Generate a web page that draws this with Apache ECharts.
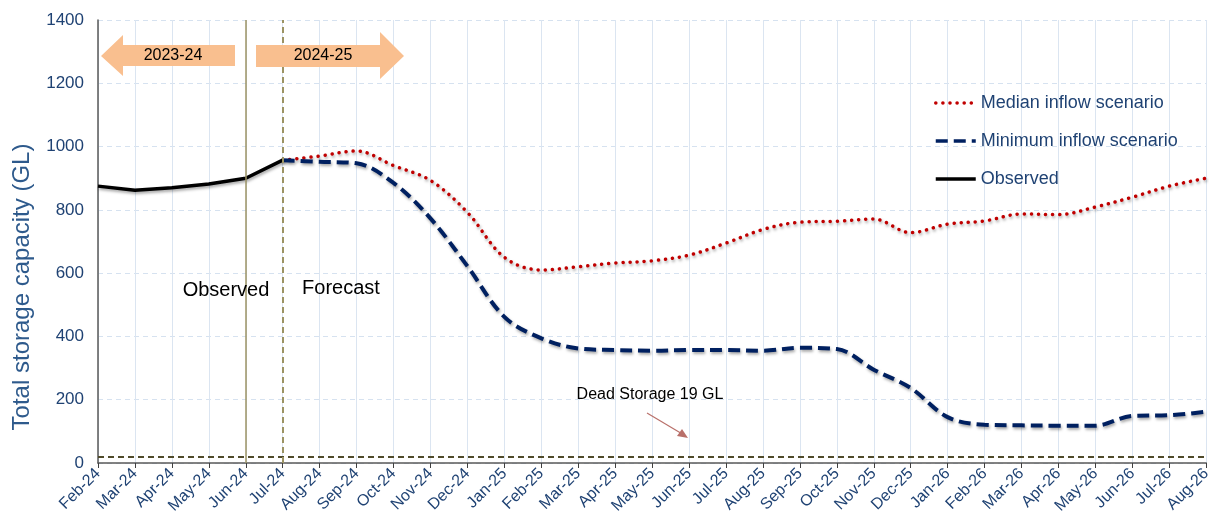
<!DOCTYPE html>
<html>
<head>
<meta charset="utf-8">
<script src="https://cdn.jsdelivr.net/npm/echarts@6/dist/echarts.min.js"></script>
<style>
  html, body { margin: 0; padding: 0; background: #ffffff; }
  #main { width: 1214px; height: 529px; }
</style>
</head>
<body>
<div id="main"></div>
<script>
var months = ['Feb-24', 'Mar-24', 'Apr-24', 'May-24', 'Jun-24', 'Jul-24', 'Aug-24', 'Sep-24', 'Oct-24', 'Nov-24', 'Dec-24',
  'Jan-25', 'Feb-25', 'Mar-25', 'Apr-25', 'May-25', 'Jun-25', 'Jul-25', 'Aug-25', 'Sep-25', 'Oct-25', 'Nov-25', 'Dec-25',
  'Jan-26', 'Feb-26', 'Mar-26', 'Apr-26', 'May-26', 'Jun-26', 'Jul-26', 'Aug-26'];

var observed = [875, 862, 870, 882, 900, 957, null, null, null, null, null, null, null, null, null, null, null, null, null, null, null, null, null, null, null, null, null, null, null, null, null];

var medianInflow = [null, null, null, null, null, 957, 970, 986, 940, 893, 792,
  650, 610, 620, 632, 639, 657, 695, 738, 761, 764, 771, 728,
  755, 765, 787, 785, 809, 840, 875, 900];

var minimumInflow = [null, null, null, null, null, 957, 952, 947, 885, 773, 622,
  462, 394, 362, 357, 355, 357, 357, 355, 364, 360, 295, 237,
  145, 121, 119, 118, 118, 149, 151, 162];

var yTicks = [0, 200, 400, 600, 800, 1000, 1200, 1400];
var deadStorage = 19;

var chart = echarts.init(document.getElementById('main'));

var shadow = { shadowColor: 'rgba(0,0,0,0.35)', shadowBlur: 3, shadowOffsetX: 1, shadowOffsetY: 2 };
var textBlue = '#1f4273';
var font = 'Liberation Sans, Arial';

chart.setOption({
  animation: false,
  grid: { left: 98, right: 6, top: 20, bottom: 66, containLabel: false },
  legend: {
    orient: 'vertical',
    left: 929,
    top: 88,
    itemWidth: 40,
    itemHeight: 14,
    itemGap: 18,
    itemStyle: { opacity: 0 },
    lineStyle: { width: 3.5, shadowBlur: 0, shadowOffsetX: 0, shadowOffsetY: 0 },
    textStyle: { color: textBlue, fontSize: 18, lineHeight: 20, fontFamily: font },
    data: ['Median inflow scenario', 'Minimum inflow scenario', 'Observed']
  },
  xAxis: {
    type: 'category',
    boundaryGap: false,
    data: months,
    axisLine: { lineStyle: { color: '#595959', width: 1.5 } },
    axisTick: { show: true, alignWithLabel: true, lineStyle: { color: '#404040' }, length: 5 },
    axisLabel: {
      rotate: 45, color: textBlue, fontSize: 16, interval: 0, margin: 8,
      fontFamily: font
    },
    splitLine: { show: true, lineStyle: { color: '#dbe5f1', width: 1 } }
  },
  yAxis: {
    type: 'value',
    min: yTicks[0],
    max: yTicks[yTicks.length - 1],
    interval: 200,
    axisLine: { show: true, lineStyle: { color: '#595959', width: 1.5 } },
    axisTick: { show: false },
    axisLabel: {
      color: textBlue, fontSize: 17, margin: 14, fontFamily: font,
      formatter: function (v) { return String(v); }
    },
    splitLine: { show: true, lineStyle: { color: '#d6e2f0', type: [5, 4], width: 1 } }
  },
  series: [
    {
      name: 'Median inflow scenario',
      type: 'line',
      data: medianInflow,
      smooth: 0.35,
      symbol: 'none',
      z: 3,
      lineStyle: Object.assign({ color: '#c00000', width: 3.5, type: [0.1, 7], cap: 'round' }, shadow),
      itemStyle: { color: '#c00000' }
    },
    {
      name: 'Minimum inflow scenario',
      type: 'line',
      data: minimumInflow,
      smooth: 0.35,
      symbol: 'none',
      z: 3,
      lineStyle: Object.assign({ color: '#002060', width: 4, type: [12, 6] }, shadow),
      itemStyle: { color: '#002060' },
      markLine: {
        silent: true,
        symbol: 'none',
        label: { show: false },
        data: [
          { yAxis: deadStorage, lineStyle: { color: '#4f4a2a', width: 2, type: [6, 4] } }
        ]
      }
    },
    {
      name: 'Observed',
      type: 'line',
      data: observed,
      symbol: 'none',
      z: 4,
      lineStyle: Object.assign({ color: '#000000', width: 3.5 }, shadow),
      itemStyle: { color: '#000000' },
      markLine: {
        silent: true,
        symbol: 'none',
        label: { show: false },
        data: [
          { xAxis: 'Jun-24', lineStyle: { color: '#9c9364', width: 1.5, type: 'solid' } },
          { xAxis: 'Jul-24', lineStyle: { color: '#9c9364', width: 2, type: [6, 4] } }
        ]
      }
    }
  ],
  graphic: {
    elements: [
      {
        type: 'text', x: 22, y: 287, rotation: Math.PI / 2,
        style: {
          text: 'Total storage capacity (GL)', fill: '#2e5a8c', font: '24px Liberation Sans, Arial',
          align: 'center', verticalAlign: 'middle'
        }
      },
      {
        type: 'polygon', z: 50,
        shape: { points: [[101, 56], [123, 35], [123, 45], [235, 45], [235, 66], [123, 66], [123, 76]] },
        style: { fill: '#f9bf8f' }
      },
      {
        type: 'text', x: 173, y: 56, z: 51,
        style: { text: '2023-24', fill: '#000', font: '16px Liberation Sans, Arial', align: 'center', verticalAlign: 'middle' }
      },
      {
        type: 'polygon', z: 50,
        shape: { points: [[256, 45], [380, 45], [380, 32], [404, 56], [380, 79], [380, 67], [256, 67]] },
        style: { fill: '#f9bf8f' }
      },
      {
        type: 'text', x: 323, y: 56, z: 51,
        style: { text: '2024-25', fill: '#000', font: '16px Liberation Sans, Arial', align: 'center', verticalAlign: 'middle' }
      },
      {
        type: 'text', x: 226, y: 290, z: 51,
        style: { text: 'Observed', fill: '#000', font: '20px Liberation Sans, Arial', align: 'center', verticalAlign: 'middle' }
      },
      {
        type: 'text', x: 341, y: 288, z: 51,
        style: { text: 'Forecast', fill: '#000', font: '20px Liberation Sans, Arial', align: 'center', verticalAlign: 'middle' }
      },
      {
        type: 'text', x: 650, y: 395, z: 51,
        style: { text: 'Dead Storage 19 GL', fill: '#000', font: '16px Liberation Sans, Arial', align: 'center', verticalAlign: 'middle' }
      },
      {
        type: 'line', z: 51,
        shape: { x1: 647, y1: 413, x2: 684, y2: 435 },
        style: { stroke: '#b9706a', lineWidth: 1.2 }
      },
      {
        type: 'polygon', z: 51,
        shape: { points: [[688, 438], [677, 436], [682, 429]] },
        style: { fill: '#b9706a' }
      }
    ]
  }
});
</script>
</body>
</html>
